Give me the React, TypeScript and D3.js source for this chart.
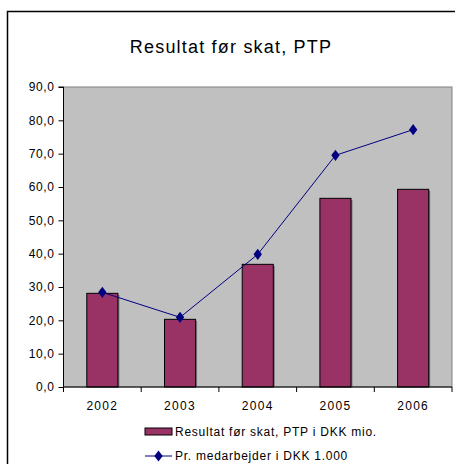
import React, { useRef, useEffect } from "react";
import * as d3 from "d3";

const years = ["2002", "2003", "2004", "2005", "2006"];
const resultat = [28.1, 20.3, 36.8, 56.6, 59.3];
const prMedarbejder = [28.4, 20.9, 39.8, 69.5, 77.2];
const yTicks = [0, 10, 20, 30, 40, 50, 60, 70, 80, 90];

const FONT = "'Liberation Sans', Arial, sans-serif";

function App() {
  const canvas = useRef<SVGSVGElement>(null);

  function drawChart() {
    const svg = d3.select(canvas.current);
    svg.selectAll("*").remove();

    const left = 63.5;
    const right = 452;
    const top = 87;
    const bottom = 387;

    // outer frame (cropped at right and bottom)
    svg
      .append("rect")
      .attr("x", 7.5)
      .attr("y", 11.5)
      .attr("width", 470)
      .attr("height", 480)
      .attr("fill", "white")
      .attr("stroke", "black")
      .attr("stroke-width", 1.5);

    svg
      .append("text")
      .attr("x", 231)
      .attr("y", 53)
      .attr("text-anchor", "middle")
      .style("font-family", FONT)
      .style("font-size", "18px")
      .style("letter-spacing", "1.2px")
      .text("Resultat før skat, PTP");

    const x = d3.scaleBand().domain(years).range([left, right]);
    const y = d3.scaleLinear().domain([0, 90]).range([bottom, top]);

    svg
      .append("rect")
      .attr("x", left)
      .attr("y", top)
      .attr("width", right - left)
      .attr("height", bottom - top)
      .attr("fill", "#c0c0c0")
      .attr("stroke", "#808080")
      .attr("stroke-width", 1);

    const barW = x.bandwidth() / 2.5;

    // bar shadows
    svg
      .selectAll("rect.shadow")
      .data(resultat)
      .enter()
      .append("rect")
      .attr("class", "shadow")
      .attr("x", (d, i) => (x(years[i]) as number) + x.bandwidth() / 2 - barW / 2 + 1.5)
      .attr("y", (d) => y(d) + 1.5)
      .attr("width", barW)
      .attr("height", (d) => bottom - y(d) - 1.5)
      .attr("fill", "#777");

    svg
      .selectAll("rect.bar")
      .data(resultat)
      .enter()
      .append("rect")
      .attr("class", "bar")
      .attr("x", (d, i) => (x(years[i]) as number) + x.bandwidth() / 2 - barW / 2)
      .attr("y", (d) => y(d))
      .attr("width", barW)
      .attr("height", (d) => bottom - y(d))
      .attr("fill", "#993366")
      .attr("stroke", "black")
      .attr("stroke-width", 1);

    const line = d3
      .line<number>()
      .x((d, i) => (x(years[i]) as number) + x.bandwidth() / 2)
      .y((d) => y(d));

    svg
      .append("path")
      .datum(prMedarbejder)
      .attr("d", line)
      .attr("fill", "none")
      .attr("stroke", "#000080")
      .attr("stroke-width", 1);

    const diamond = d3.symbol().type(d3.symbolDiamond).size(36);
    svg
      .selectAll("path.marker")
      .data(prMedarbejder)
      .enter()
      .append("path")
      .attr("class", "marker")
      .attr("d", diamond)
      .attr(
        "transform",
        (d, i) => `translate(${(x(years[i]) as number) + x.bandwidth() / 2},${y(d)}) scale(1.3,1)`
      )
      .attr("fill", "#000080");

    // y axis
    const yAxis = svg.append("g").attr("transform", `translate(${left},0)`);
    yAxis
      .call(
        d3
          .axisLeft(y)
          .tickValues(yTicks)
          .tickSize(5)
          .tickPadding(4)
          .tickFormat((d) => d3.format(".1f")(d as number).replace(".", ","))
      )
      .call((g) => g.selectAll("line").attr("stroke", "black"))
      .call((g) => g.select(".domain").attr("stroke", "black").attr("d", `M-5,${top}H0V${bottom}`))
      .call((g) =>
        g
          .selectAll("text")
          .style("font-family", FONT)
          .style("font-size", "12px")
          .style("letter-spacing", "0.6px")
          .attr("fill", "black")
      );

    // x axis
    const xAxis = svg.append("g").attr("transform", `translate(0,${bottom})`);
    xAxis
      .call(d3.axisBottom(x).tickSize(0).tickPadding(14))
      .call((g) => g.select(".domain").attr("stroke", "black").attr("d", `M${left},0H${right}`))
      .call((g) =>
        g
          .selectAll("text")
          .style("font-family", FONT)
          .style("font-size", "12px")
          .style("letter-spacing", "1.3px")
          .attr("fill", "black")
      );
    xAxis
      .selectAll("line.bt")
      .data(years.concat(["end"]))
      .enter()
      .append("line")
      .attr("class", "bt")
      .attr("x1", (d, i) => left + i * x.step())
      .attr("x2", (d, i) => left + i * x.step())
      .attr("y1", 0)
      .attr("y2", 5)
      .attr("stroke", "black");

    // legend
    const lg = svg.append("g");
    lg.append("rect")
      .attr("x", 145)
      .attr("y", 428)
      .attr("width", 27)
      .attr("height", 7)
      .attr("fill", "#993366")
      .attr("stroke", "black");
    lg.append("text")
      .attr("x", 175)
      .attr("y", 436)
      .style("font-family", FONT)
      .style("font-size", "12px")
      .style("letter-spacing", "0.75px")
      .text("Resultat før skat, PTP i DKK mio.");
    lg.append("line")
      .attr("x1", 145)
      .attr("x2", 172)
      .attr("y1", 456)
      .attr("y2", 456)
      .attr("stroke", "#000080");
    lg.append("path")
      .attr("d", diamond)
      .attr("transform", "translate(158.5,456) scale(1.3,1)")
      .attr("fill", "#000080");
    lg.append("text")
      .attr("x", 175)
      .attr("y", 460)
      .style("font-family", FONT)
      .style("font-size", "12px")
      .style("letter-spacing", "0.75px")
      .text("Pr. medarbejder i DKK 1.000");
  }

  useEffect(() => {
    drawChart();
  }, []);

  return (
    <svg
      ref={canvas}
      width={455}
      height={464}
      style={{ position: "absolute", left: 0, top: 0, background: "white" }}
    ></svg>
  );
}

export default App;
